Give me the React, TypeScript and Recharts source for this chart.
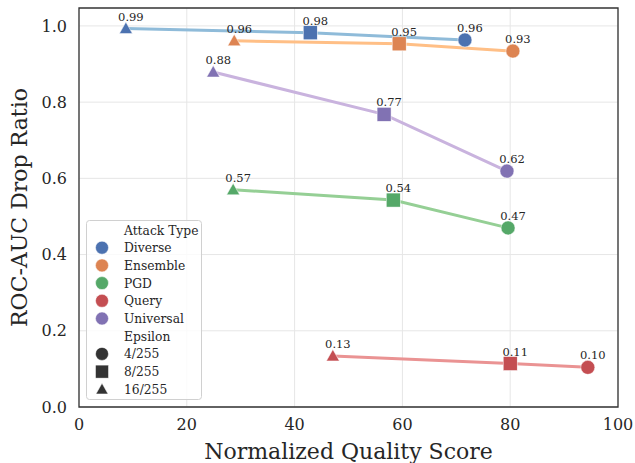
import React from 'react';
import { LineChart, Line, XAxis, YAxis, CartesianGrid, ReferenceArea, LabelList } from 'recharts';

const attackTypes = ['Diverse', 'Ensemble', 'PGD', 'Query', 'Universal'];
const epsilonLevels = ['4/255', '8/255', '16/255'];
// points of each line, from left to right
const pointEpsilons = ['16/255', '8/255', '4/255'];

const diverseQuality = [8.7, 42.9, 71.6];
const diverseDrop = [0.993, 0.982, 0.963];
const ensembleQuality = [28.8, 59.4, 80.5];
const ensembleDrop = [0.961, 0.953, 0.934];
const pgdQuality = [28.6, 58.3, 79.6];
const pgdDrop = [0.57, 0.543, 0.47];
const queryQuality = [47.1, 80.0, 94.4];
const queryDrop = [0.134, 0.114, 0.104];
const universalQuality = [24.9, 56.6, 79.4];
const universalDrop = [0.879, 0.768, 0.619];

const xTicks = [0, 20, 40, 60, 80, 100];
const yTicks = [0, 0.2, 0.4, 0.6, 0.8, 1.0];

const markerColors = ['#4C72B0', '#DD8452', '#55A868', '#C44E52', '#8172B3'];
const lineColors = ['#8fbbd9', '#ffbf86', '#95cf95', '#ea9393', '#c9b3de'];

const qualities = [diverseQuality, ensembleQuality, pgdQuality, queryQuality, universalQuality];
const drops = [diverseDrop, ensembleDrop, pgdDrop, queryDrop, universalDrop];

const series = attackTypes.map((name, i) => ({
  name,
  data: pointEpsilons.map((eps, j) => ({ x: qualities[i][j], y: drops[i][j], eps })),
}));

const FONT = '"DejaVu Serif", serif';
const TEXT = '#262626';

function Marker({ cx, cy, eps, color, scale = 1 }: any) {
  if (eps === '4/255') return <circle cx={cx} cy={cy} r={7 * scale} fill={color} stroke="#fff" strokeWidth={0.5} />;
  if (eps === '8/255') {
    const h = 7 * scale;
    return <rect x={cx - h} y={cy - h} width={2 * h} height={2 * h} fill={color} stroke="#fff" strokeWidth={0.5} />;
  }
  const w = 6.5 * scale;
  return (
    <polygon
      points={`${cx},${cy - 6.5 * scale} ${cx - w},${cy + 5 * scale} ${cx + w},${cy + 5 * scale}`}
      fill={color}
      stroke="#fff"
      strokeWidth={0.5}
    />
  );
}

const renderLabel = (props: any) => {
  const { x, y, value } = props;
  return (
    <text x={x + 5} y={y - 8} textAnchor="middle" fontSize={11.5} fontFamily={FONT} fill={TEXT}>
      {Number(value).toFixed(2)}
    </text>
  );
};

const LegendBox = () => {
  const rowH = 17.7;
  const rows: any[] = [];
  rows.push({ text: 'Attack Type' });
  attackTypes.forEach((a, i) => rows.push({ text: a, color: markerColors[i], eps: '4/255' }));
  rows.push({ text: 'Epsilon' });
  epsilonLevels.forEach((e) => rows.push({ text: e, color: '#333', eps: e }));
  return (
    <svg width={117} height={181} style={{ display: 'block' }}>
      <rect x={0.5} y={0.5} width={115} height={179} rx={3} fill="#fff" fillOpacity={0.8} stroke="#d0d0d0" />
      {rows.map((r, i) => {
        const cy = 10 + i * rowH;
        return (
          <g key={i}>
            {r.color && <Marker cx={16} cy={cy} eps={r.eps} color={r.color} scale={0.93} />}
            <text x={38} y={cy + 4.5} fontSize={12.3} fontFamily={FONT} fill={TEXT}>
              {r.text}
            </text>
          </g>
        );
      })}
    </svg>
  );
};

const renderYLabel = (props: any) => {
  const vb = props.viewBox || {};
  const cx = 27;
  const cy = vb.y + vb.height / 2;
  return (
    <text x={cx} y={cy} transform={`rotate(-90, ${cx}, ${cy})`} textAnchor="middle"
      fontSize={22} fontFamily={FONT} fill={TEXT}>
      ROC-AUC Drop Ratio
    </text>
  );
};

const renderXLabel = (props: any) => {
  const vb = props.viewBox || {};
  return (
    <text x={vb.x + vb.width / 2} y={459} textAnchor="middle" fontSize={22} fontFamily={FONT} fill={TEXT}>
      Normalized Quality Score
    </text>
  );
};

export default function App() {
  return (
    <div style={{ position: 'absolute', left: 0, top: 0, width: 635, height: 463, background: '#fff' }}>
      <LineChart width={635} height={463} margin={{ top: 8, right: 17, bottom: 0, left: 0 }}>
        <CartesianGrid stroke="#e6e6e6" strokeWidth={1} horizontalValues={yTicks} verticalValues={xTicks} />
        <XAxis
          type="number"
          dataKey="x"
          domain={[0, 100]}
          ticks={xTicks}
          height={56}
          tickLine={false}
          axisLine={false}
          tickMargin={6}
          tick={{ fontSize: 16, fontFamily: FONT, fill: TEXT }}
          label={renderXLabel}
        />
        <YAxis
          type="number"
          dataKey="y"
          domain={[0, 1.047]}
          ticks={yTicks}
          width={79}
          tickLine={false}
          axisLine={false}
          tickMargin={6}
          tickFormatter={(v: number) => v.toFixed(1)}
          tick={{ fontSize: 16, fontFamily: FONT, fill: TEXT }}
          allowDataOverflow
          label={renderYLabel}
        />
        <ReferenceArea x1={0} x2={100} y1={0} y2={1.047} fill="none" stroke="#333" strokeWidth={1.3} />
        {series.map((s, i) => (
          <Line
            key={s.name}
            data={s.data}
            dataKey="y"
            name={s.name}
            stroke={lineColors[i]}
            strokeWidth={3}
            isAnimationActive={false}
            legendType="none"
            dot={(p: any) => (
              <Marker key={`${s.name}-${p.index}`} cx={p.cx} cy={p.cy} eps={p.payload.eps} color={markerColors[i]} />
            )}
            activeDot={false}
          >
            <LabelList dataKey="y" content={renderLabel} />
          </Line>
        ))}
      </LineChart>
      <div style={{ position: 'absolute', left: 86, top: 220 }}>
        <LegendBox />
      </div>
    </div>
  );
}
